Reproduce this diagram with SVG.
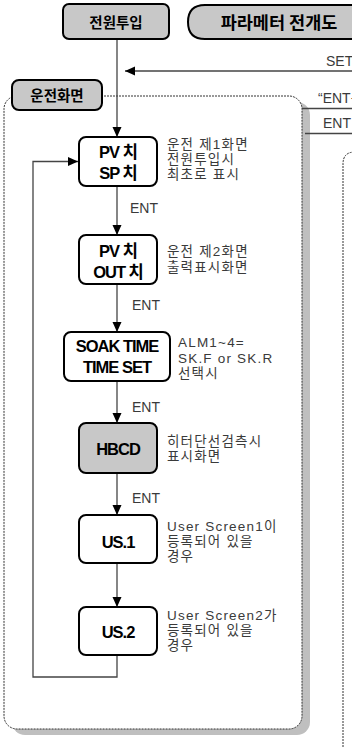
<svg xmlns="http://www.w3.org/2000/svg" width="352" height="747" viewBox="0 0 352 747">
<style>
.box{fill:#fff;stroke:#000;stroke-width:2}
.gbox{fill:#c8c8c8;stroke:#000;stroke-width:2}
.bt{font-family:"Liberation Sans","Noto Sans CJK KR",sans-serif;font-weight:bold;font-size:16.5px;letter-spacing:-1px;fill:#000;text-anchor:middle}
.tt{font-family:"Noto Sans CJK KR","Liberation Sans",sans-serif;font-weight:bold;fill:#000;text-anchor:middle}
.lb{font-family:"Liberation Sans","Noto Sans CJK KR",sans-serif;font-size:13.5px;letter-spacing:1.2px;fill:#3a3a3a}
.ent{font-family:"Liberation Sans",sans-serif;font-size:14px;fill:#3a3a3a}
.ln{fill:none;stroke:#444;stroke-width:1.3}
.dash{fill:#fff;stroke:#333;stroke-width:1;stroke-dasharray:2 1}
</style>
<defs>
<marker id="ah" viewBox="0 0 10 10" refX="10" refY="5" markerWidth="10" markerHeight="10" markerUnits="userSpaceOnUse" orient="auto">
<path d="M0,0.5 L10,5 L0,9.5 Z" fill="#000"/>
</marker>
</defs>

<g id="frame-run">
<rect x="12" y="102" width="298" height="633" rx="13" fill="#bfbfbf"/>
<rect class="dash" x="4" y="96" width="298" height="633" rx="13"/>
</g>
<g id="frame-param">
<path class="dash" d="M343,747 V164 Q343,152 355,152" fill="none"/>
</g>

<g id="connectors">
<path class="ln" d="M117,39 V137" marker-end="url(#ah)"/>
<path class="ln" d="M352,71 H125" marker-end="url(#ah)"/>
<path class="ln" d="M302,108.5 H352"/>
<path class="ln" d="M305,133.5 H352"/>
<path class="ln" d="M117,186 V235" marker-end="url(#ah)"/>
<path class="ln" d="M117,284 V332" marker-end="url(#ah)"/>
<path class="ln" d="M117,381 V423" marker-end="url(#ah)"/>
<path class="ln" d="M117,473 V515" marker-end="url(#ah)"/>
<path class="ln" d="M117,563 V607" marker-end="url(#ah)"/>
<path class="ln" d="M117,655 V677 H33 V161.5 H78" marker-end="url(#ah)"/>
<text class="ent" x="326" y="66">SET</text>
<text class="ent" x="318" y="103">“ENT+</text>
<text class="ent" x="323" y="128">ENT</text>
<text class="ent" x="130" y="213">ENT</text>
<text class="ent" x="132" y="310">ENT</text>
<text class="ent" x="132" y="412">ENT</text>
<text class="ent" x="132" y="503">ENT</text>
</g>

<g id="power-on">
<rect class="gbox" x="63" y="4" width="106" height="35" rx="6"/>
<text class="tt" x="116" y="28" font-size="14.5">전원투입</text>
</g>
<g id="title">
<path class="gbox" d="M360,5 H205 Q188,5 188,22 Q188,39 205,39 H360 Z" fill="#d0d0d0"/>
<text class="tt" x="279" y="29" font-size="17.5">파라메터 전개도</text>
</g>
<g id="run-label">
<rect class="gbox" x="12" y="80" width="90" height="30" rx="7"/>
<text class="tt" x="57" y="101" font-size="14.5">운전화면</text>
</g>

<g id="pv-sp">
<rect class="box" x="79" y="137" width="78" height="49" rx="7"/>
<text class="bt" x="118" y="158">PV 치</text>
<text class="bt" x="118" y="179">SP 치</text>
<text class="lb" x="167" y="149">운전 제1화면</text>
<text class="lb" x="167" y="164">전원투입시</text>
<text class="lb" x="167" y="179">최초로 표시</text>
</g>
<g id="pv-out">
<rect class="box" x="79" y="235" width="78" height="49" rx="7"/>
<text class="bt" x="118" y="257">PV 치</text>
<text class="bt" x="118" y="278">OUT 치</text>
<text class="lb" x="167" y="256">운전 제2화면</text>
<text class="lb" x="167" y="272">출력표시화면</text>
</g>
<g id="soak">
<rect class="box" x="64" y="332" width="106" height="49" rx="7"/>
<text class="bt" x="117" y="352">SOAK TIME</text>
<text class="bt" x="117" y="373">TIME SET</text>
<text class="lb" x="178" y="347">ALM1~4=</text>
<text class="lb" x="178" y="363">SK.F or SK.R</text>
<text class="lb" x="178" y="378">선택시</text>
</g>
<g id="hbcd">
<rect class="gbox" x="79" y="423" width="78" height="50" rx="7"/>
<text class="bt" x="118" y="455">HBCD</text>
<text class="lb" x="167" y="446">히터단선검측시</text>
<text class="lb" x="167" y="461">표시화면</text>
</g>
<g id="us1">
<rect class="box" x="79" y="515" width="78" height="48" rx="7"/>
<text class="bt" x="118" y="548">US.1</text>
<text class="lb" x="167" y="531">User Screen1이</text>
<text class="lb" x="167" y="546">등록되어 있을</text>
<text class="lb" x="167" y="561">경우</text>
</g>
<g id="us2">
<rect class="box" x="79" y="607" width="78" height="48" rx="7"/>
<text class="bt" x="118" y="638">US.2</text>
<text class="lb" x="167" y="620">User Screen2가</text>
<text class="lb" x="167" y="635">등록되어 있을</text>
<text class="lb" x="167" y="650">경우</text>
</g>
</svg>
